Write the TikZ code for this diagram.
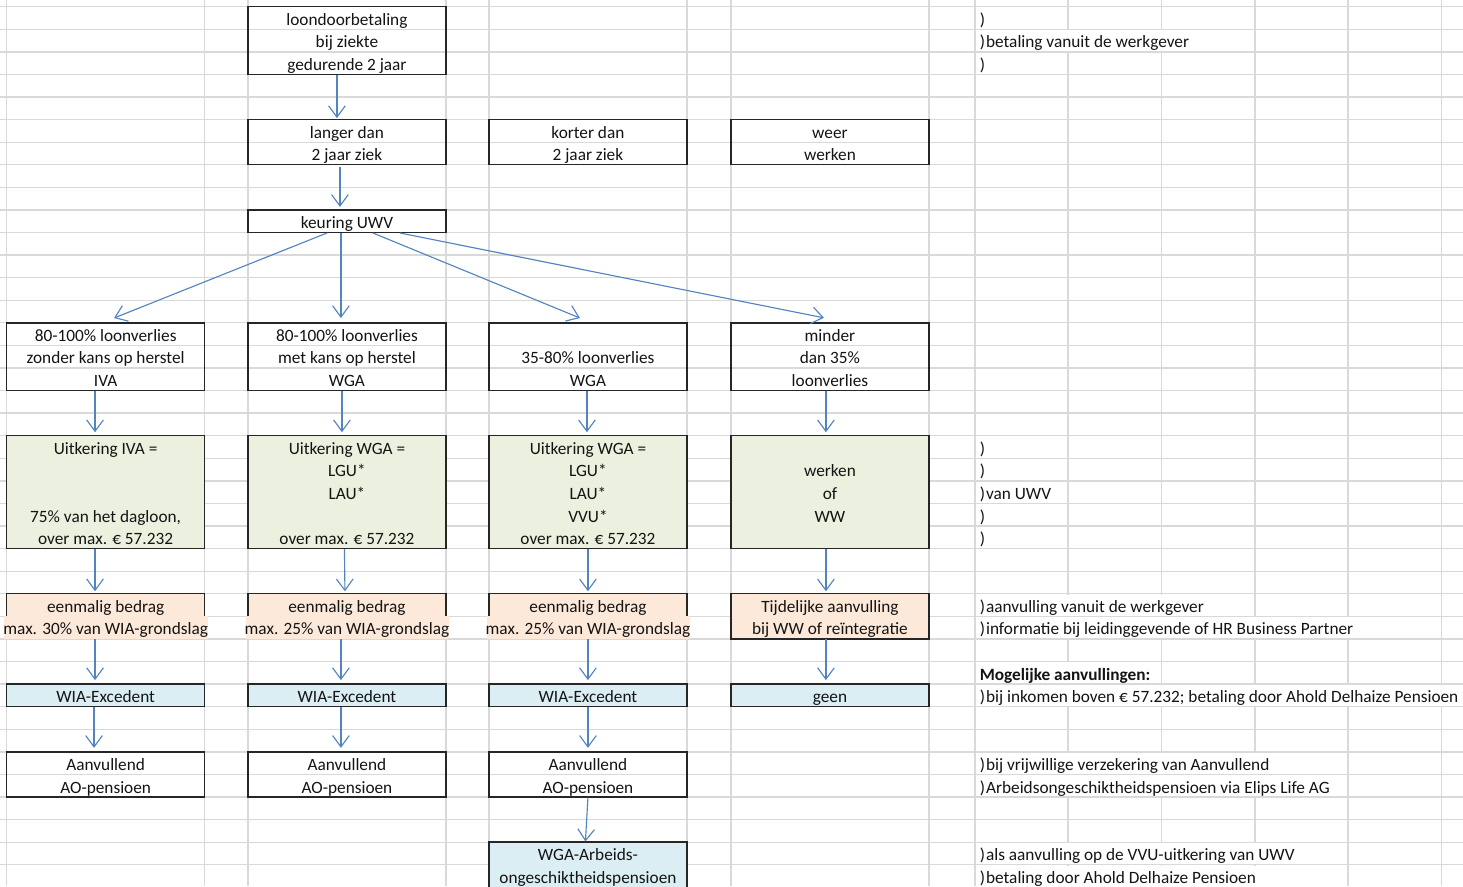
\documentclass[tikz,border=0pt]{standalone}
\usepackage{fontspec}
\setmainfont{Carlito}
\usetikzlibrary{arrows.meta,calc}
\definecolor{gridc}{RGB}{217,217,217}
\definecolor{boxc}{RGB}{38,38,38}
\definecolor{arrc}{RGB}{84,132,192}
\definecolor{greenf}{RGB}{235,241,222}
\definecolor{peachf}{RGB}{253,233,217}
\definecolor{bluef}{RGB}{218,238,243}
\definecolor{txtc}{RGB}{20,20,20}
\newcommand\cellfont{\fontsize{12.95pt}{16.935pt}\selectfont}
\newcommand\cs{\rule[-3pt]{0pt}{16.935pt}}
\lineskiplimit=-4pt
\begin{document}
\begin{tikzpicture}[x=0.75pt,y=-0.75pt,
 gridline/.style={draw=gridc,line width=1pt},
 box/.style={draw=boxc,line width=1.05pt,inner sep=0pt,outer sep=0pt,anchor=north west,align=center,font=\cellfont,text=txtc,minimum width=148.4pt},
 rowone/.style={minimum height=16.935pt},
 rowtwo/.style={minimum height=33.87pt},
 rowthree/.style={minimum height=50.805pt},
 rowfive/.style={minimum height=84.675pt},
 gbox/.style={box,fill=greenf},
 bbox/.style={box,fill=bluef},
 pbox/.style={box,draw=none,fill=peachf},
 edgeline/.style={draw=boxc,line width=1.05pt},
 arr/.style={draw=arrc,line width=0.85pt,-{Straight Barb[length=8.5pt,width=12.5pt]}},
 rtxt/.style={anchor=base west,inner sep=0pt,font=\cellfont,text=txtc},
]
\useasboundingbox (0,0) rectangle (1463,886);
\clip (0,0) rectangle (1463,886);
\fill[white] (0,0) rectangle (1463,886);
% grid
\foreach \k in {0,...,38} \draw[gridline] (0,{6.7+22.58*\k}) -- (1463,{6.7+22.58*\k});
\foreach \x in {6.7,204.5,248,446,489,687,731,929,975,1068,1161.5,1255,1348,1441.5} \draw[gridline] (\x,0) -- (\x,886);
% spilled text hides grid
\fill[white] (977,30.1) rectangle (1163,51.0);
\fill[white] (977,594.6) rectangle (1163,615.5);
\fill[white] (977,617.2) rectangle (1350,638.1);
\fill[white] (977,662.3) rectangle (1070,683.3);
\fill[white] (977,684.9) rectangle (1463,705.9);
\fill[white] (977,752.6) rectangle (1257,773.6);
\fill[white] (977,775.2) rectangle (1257,796.2);
\fill[white] (977,842.9) rectangle (1257,863.9);
\fill[white] (977,865.5) rectangle (1257,886.5);
% peach overflow
\fill[peachf] (4,616.36) rectangle (207.5,638.94);
\fill[peachf] (245.5,616.36) rectangle (448.5,638.94);
\fill[peachf] (486.5,616.36) rectangle (689.5,638.94);

% boxes
\node[box,rowthree] (loon) at (248,6.7) {\cs loondoorbetaling\\\cs bij ziekte\\\cs gedurende 2 jaar};
\node[box,rowtwo] (langer) at (248,119.6) {\cs langer dan\\\cs 2 jaar ziek};
\node[box,rowtwo] (korter) at (489,119.6) {\cs korter dan\\\cs 2 jaar ziek};
\node[box,rowtwo] (weer) at (731,119.6) {\cs weer\\\cs werken};
\node[box,rowone] (keur) at (248,209.92) {\cs keuring UWV};

\node[box,rowthree] (b1) at (6.7,322.82) {\cs 80-100\% loonverlies\\\cs zonder kans op herstel\\\cs IVA};
\node[box,rowthree] (b2) at (248,322.82) {\cs 80-100\% loonverlies\\\cs met kans op herstel\\\cs WGA};
\node[box,rowthree] (b3) at (489,322.82) {\cs\\\cs 35-80\% loonverlies\\\cs WGA};
\node[box,rowthree] (b4) at (731,322.82) {\cs minder\\\cs dan 35\%\\\cs loonverlies};

\node[gbox,rowfive] (g1) at (6.7,435.72) {\cs Uitkering IVA =\\\cs\\\cs\\\cs 75\% van het dagloon,\\\cs over max. € 57.232};
\node[gbox,rowfive] (g2) at (248,435.72) {\cs Uitkering WGA =\\\cs LGU*\\\cs LAU*\\\cs\\\cs over max. € 57.232};
\node[gbox,rowfive] (g3) at (489,435.72) {\cs Uitkering WGA =\\\cs LGU*\\\cs LAU*\\\cs VVU*\\\cs over max. € 57.232};
\node[gbox,rowfive] (g4) at (731,435.72) {\cs\\\cs werken\\\cs of\\\cs WW\\\cs};

\node[pbox,rowtwo] (p1) at (6.7,593.78) {\cs eenmalig bedrag\\\cs\makebox[0pt]{max. 30\% van WIA-grondslag}};
\node[pbox,rowtwo] (p2) at (248,593.78) {\cs eenmalig bedrag\\\cs\makebox[0pt]{max. 25\% van WIA-grondslag}};
\node[pbox,rowtwo] (p3) at (489,593.78) {\cs eenmalig bedrag\\\cs\makebox[0pt]{max. 25\% van WIA-grondslag}};
\node[box,rowtwo,fill=peachf] (p4) at (731,593.78) {\cs Tijdelijke aanvulling\\\cs bij WW of reïntegratie};
\foreach \p in {p1,p2,p3}
  \draw[edgeline] ($(\p.south west)+(0,-22.58)$) -- (\p.north west) -- (\p.north east) -- ($(\p.south east)+(0,-22.58)$);

\node[bbox,rowone] (w1) at (6.7,684.1) {\cs WIA-Excedent};
\node[bbox,rowone] (w2) at (248,684.1) {\cs WIA-Excedent};
\node[bbox,rowone] (w3) at (489,684.1) {\cs WIA-Excedent};
\node[bbox,rowone] (w4) at (731,684.1) {\cs geen};

\node[box,rowtwo] (a1) at (6.7,751.84) {\cs Aanvullend\\\cs AO-pensioen};
\node[box,rowtwo] (a2) at (248,751.84) {\cs Aanvullend\\\cs AO-pensioen};
\node[box,rowtwo] (a3) at (489,751.84) {\cs Aanvullend\\\cs AO-pensioen};

\node[bbox,rowtwo] (arb) at (489,842.16) {\cs WGA-Arbeids-\\\cs ongeschiktheidspensioen};

% arrows
\draw[arr] ($(loon.south)+(-10,0.5)$) -- ($(langer.north)+(-10,-1.5)$);
\draw[arr] ($(langer.south)+(-7,2.5)$) -- ($(keur.north)+(-7,-3)$);
\draw[arr] ($(keur.south)+(-20,0.5)$) -- ($(b1.north)+(8.4,-4.8)$);
\draw[arr] ($(keur.south)+(-6,0.5)$) -- ($(b2.north)+(-6,-4.8)$);
\draw[arr] ($(keur.south)+(26,0.5)$) -- ($(b3.north)+(-8,-4.8)$);
\draw[arr] ($(keur.south)+(53,0.5)$) -- ($(b4.north)+(-6,-5)$);

\draw[arr] ($(b1.south)+(-10.6,0.5)$) -- ($(g1.north)+(-10.6,-3.5)$);
\draw[arr] ($(b2.south)+(-5,0.5)$) -- ($(g2.north)+(-5,-3.5)$);
\draw[arr] ($(b3.south)+(-1,0.5)$) -- ($(g3.north)+(-1,-3.5)$);
\draw[arr] ($(b4.south)+(-4,0.5)$) -- ($(g4.north)+(-4,-3.5)$);

\draw[arr] ($(g1.south)+(-10.6,0.5)$) -- ($(p1.north)+(-10.6,-2.5)$);
\draw[arr] ($(g2.south)+(-2.5,0.5)$) -- ($(p2.north)+(-2,-2.5)$);
\draw[arr] ($(g3.south)+(0,0.5)$) -- ($(p3.north)+(0,-2.5)$);
\draw[arr] ($(g4.south)+(-4,0.5)$) -- ($(p4.north)+(-4,-2.5)$);

\draw[arr] ($(p1.south)+(-10.6,0.5)$) -- ($(w1.north)+(-10.6,-4)$);
\draw[arr] ($(p2.south)+(-6,0.5)$) -- ($(w2.north)+(-6,-4)$);
\draw[arr] ($(p3.south)+(0,0.5)$) -- ($(w3.north)+(0,-4)$);
\draw[arr] ($(p4.south)+(-4,0.5)$) -- ($(w4.north)+(-4,-4)$);

\draw[arr] ($(w1.south)+(-11.6,0.5)$) -- ($(a1.north)+(-11.6,-4)$);
\draw[arr] ($(w2.south)+(-6,0.5)$) -- ($(a2.north)+(-6,-4)$);
\draw[arr] ($(w3.south)+(0,0.5)$) -- ($(a3.north)+(0,-4)$);

\draw[arr] ($(a3.south)+(0,0.5)$) -- ($(arb.north)+(-2.5,-0.7)$);

% right-hand notes
\node[rtxt] (n0) at (979.5,25.28) {)};
\node[rtxt] (n1) at (979.5,47.86) {)\kern0.8pt betaling vanuit de werkgever};
\node[rtxt] (n2) at (979.5,70.44) {)};
\node[rtxt] (n19) at (979.5,454.3) {)};
\node[rtxt] (n20) at (979.5,476.88) {)};
\node[rtxt] (n21) at (979.5,499.46) {)\kern0.8pt van UWV};
\node[rtxt] (n22) at (979.5,522.04) {)};
\node[rtxt] (n23) at (979.5,544.62) {)};
\node[rtxt] (n26) at (979.5,612.36) {)\kern0.8pt aanvulling vanuit de werkgever};
\node[rtxt] (n27) at (979.5,634.94) {)\kern0.8pt informatie bij leidinggevende of HR Business Partner};
\node[rtxt,font=\cellfont\bfseries] (n29) at (979.5,680.1) {Mogelijke aanvullingen:};
\node[rtxt] (n30) at (979.5,702.68) {)\kern0.8pt bij inkomen boven € 57.232; betaling door Ahold Delhaize Pensioen};
\node[rtxt] (n33) at (979.5,770.42) {)\kern0.8pt bij vrijwillige verzekering van Aanvullend};
\node[rtxt] (n34) at (979.5,793.0) {)\kern0.8pt Arbeidsongeschiktheidspensioen via Elips Life AG};
\node[rtxt] (n37) at (979.5,860.74) {)\kern0.8pt als aanvulling op de VVU-uitkering van UWV};
\node[rtxt] (n38) at (979.5,883.32) {)\kern0.8pt betaling door Ahold Delhaize Pensioen};
\end{tikzpicture}
\end{document}
